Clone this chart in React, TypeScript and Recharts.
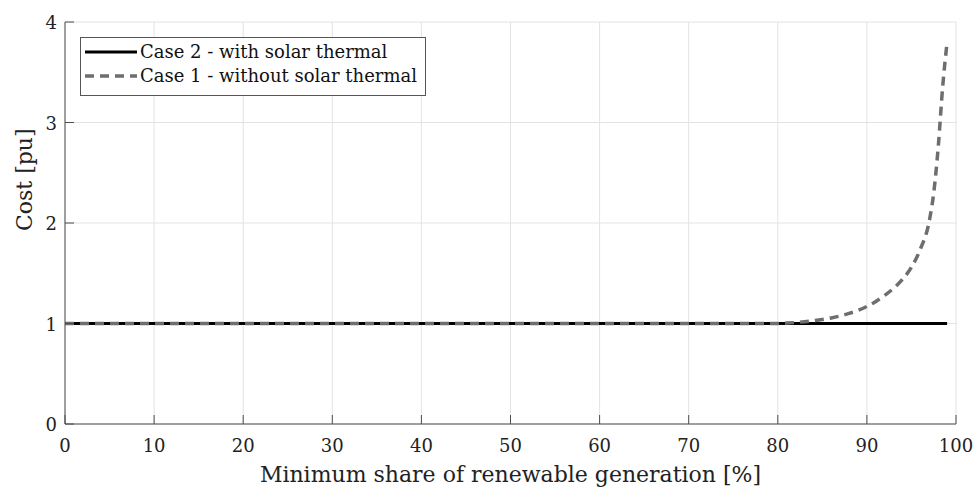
import { CartesianGrid, Line, LineChart, XAxis, YAxis } from "recharts";

const shares = [0, 10, 20, 30, 40, 50, 60, 70, 80, 81, 82, 83, 84, 85, 86, 87, 88, 89, 90, 91, 92, 93, 94, 95, 96, 97, 97.5, 98, 98.5, 99];
const case2 = [1, 1, 1, 1, 1, 1, 1, 1, 1, 1, 1, 1, 1, 1, 1, 1, 1, 1, 1, 1, 1, 1, 1, 1, 1, 1, 1, 1, 1, 1];
const case1 = [1, 1, 1, 1, 1, 1, 1, 1, 1, 1.004, 1.01, 1.018, 1.028, 1.04, 1.055, 1.075, 1.1, 1.13, 1.17, 1.22, 1.28, 1.35, 1.44, 1.56, 1.74, 2.02, 2.3, 2.75, 3.35, 3.8];

const xTicks = [0, 10, 20, 30, 40, 50, 60, 70, 80, 90, 100];
const yTicks = [0, 1, 2, 3, 4];

const seriesNames = ["Case 2 - with solar thermal", "Case 1 - without solar thermal"];

const data = shares.map((s, i) => ({ share: s, case2: case2[i], case1: case1[i] }));

const FONT = "'DejaVu Serif', serif";
const AXIS = "#4d4d4d";
const TEXT = "#222";
const DASH_COLOR = "#6e6e6e";
const TICK_LEN = 9;

// ticks point into the plot like in matlab
const BottomTick = (props: any) => {
  const { x, y, payload } = props;
  return (
    <g>
      <line x1={x} x2={x} y1={y} y2={y - TICK_LEN} stroke={AXIS} />
      <text x={x} y={y} dy={28} textAnchor="middle" fontSize={18} fontFamily={FONT} fill={TEXT}>
        {payload.value}
      </text>
    </g>
  );
};

const TopTick = (props: any) => {
  const { x, y } = props;
  return <line x1={x} x2={x} y1={y} y2={y + TICK_LEN} stroke={AXIS} />;
};

const LeftTick = (props: any) => {
  const { x, y, payload } = props;
  return (
    <g>
      <line x1={x} x2={x + TICK_LEN} y1={y} y2={y} stroke={AXIS} />
      <text x={x} y={y} dx={-8} dy={7} textAnchor="end" fontSize={18} fontFamily={FONT} fill={TEXT}>
        {payload.value}
      </text>
    </g>
  );
};

const RightTick = (props: any) => {
  const { x, y } = props;
  return <line x1={x} x2={x - TICK_LEN} y1={y} y2={y} stroke={AXIS} />;
};

const LegendBox = () => (
  <div
    style={{
      position: "absolute",
      left: 80,
      top: 37,
      width: 344,
      height: 55,
      boxSizing: "content-box",
      border: "1px solid #555",
      background: "#fff",
      fontFamily: FONT,
      fontSize: 18,
      color: "#111",
      lineHeight: "24px",
      paddingTop: 2,
      whiteSpace: "nowrap",
    }}
  >
    <div style={{ display: "flex", alignItems: "center" }}>
      <svg width={52} height={10} style={{ marginLeft: 4 }}>
        <line x1={0} x2={52} y1={5} y2={5} stroke="#000" strokeWidth={3} />
      </svg>
      <span style={{ marginLeft: 3 }}>{seriesNames[0]}</span>
    </div>
    <div style={{ display: "flex", alignItems: "center" }}>
      <svg width={52} height={10} style={{ marginLeft: 4 }}>
        <line x1={0} x2={52} y1={5} y2={5} stroke={DASH_COLOR} strokeWidth={3.5} strokeDasharray="9 6" />
      </svg>
      <span style={{ marginLeft: 3 }}>{seriesNames[1]}</span>
    </div>
  </div>
);

const App = () => {
  return (
    <div style={{ position: "absolute", left: 0, top: 0, width: 974, height: 489, background: "#fff" }}>
      <LineChart width={974} height={489} data={data} margin={{ top: 22, right: 18, left: 0, bottom: 0 }}>
        <CartesianGrid stroke="#e3e3e3" strokeWidth={1} />
        <XAxis
          dataKey="share"
          type="number"
          domain={[0, 100]}
          ticks={xTicks}
          height={65}
          stroke={AXIS}
          tickLine={false}
          tickSize={0}
          tickMargin={0}
          tick={<BottomTick />}
          label={{ value: "Minimum share of renewable generation [%]", position: "insideBottom", offset: 7, fontSize: 22, fontFamily: FONT, fill: TEXT }}
        />
        <XAxis
          xAxisId="top"
          orientation="top"
          dataKey="share"
          type="number"
          domain={[0, 100]}
          ticks={xTicks}
          height={0}
          stroke={AXIS}
          tickLine={false}
          tickSize={0}
          tickMargin={0}
          tick={<TopTick />}
        />
        <YAxis
          type="number"
          domain={[0, 4]}
          ticks={yTicks}
          width={65}
          stroke={AXIS}
          tickLine={false}
          tickSize={0}
          tickMargin={0}
          tick={<LeftTick />}
          label={{ value: "Cost [pu]", angle: -90, position: "insideLeft", offset: 24, dy: 8, fontSize: 22, fontFamily: FONT, fill: TEXT }}
        />
        <YAxis
          yAxisId="right"
          orientation="right"
          type="number"
          domain={[0, 4]}
          ticks={yTicks}
          width={0}
          stroke={AXIS}
          tickLine={false}
          tickSize={0}
          tickMargin={0}
          tick={<RightTick />}
        />
        <Line dataKey="case2" name={seriesNames[0]} stroke="#000" strokeWidth={3} dot={false} isAnimationActive={false} />
        <Line dataKey="case1" name={seriesNames[1]} type="monotone" stroke={DASH_COLOR} strokeWidth={3.5} strokeDasharray="9 6" dot={false} isAnimationActive={false} />
      </LineChart>
      <LegendBox />
    </div>
  );
};

export default App;
